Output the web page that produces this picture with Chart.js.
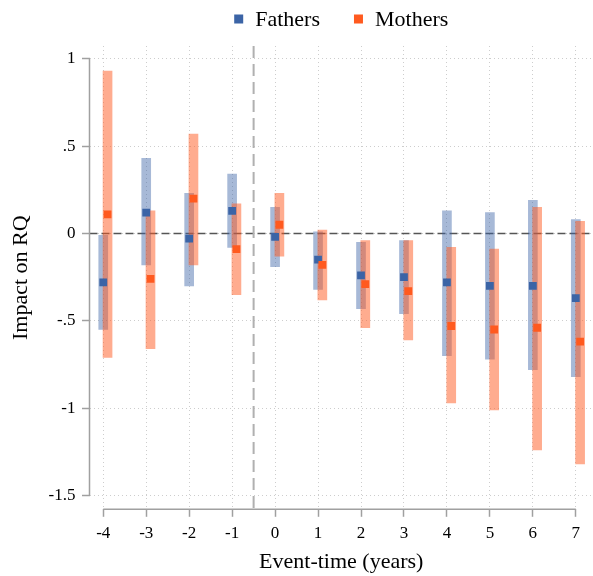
<!DOCTYPE html>
<html>
<head>
<meta charset="utf-8">
<title>Impact on RQ</title>
<script src="https://cdn.jsdelivr.net/npm/chart.js@4.4.1/dist/chart.umd.min.js"></script>
<style>
  html, body { margin: 0; padding: 0; background: #fff; }
</style>
</head>
<body>
<canvas id="rqChart" width="593" height="576"></canvas>
<script>
// event-time in years (x axis)
const years = [-4, -3, -2, -1, 0, 1, 2, 3, 4, 5, 6, 7];
const xTickLabels = ['-4', '-3', '-2', '-1', '0', '1', '2', '3', '4', '5', '6', '7'];

// fathers: point estimate + confidence interval
const fathersCoef = [-0.28, 0.12, -0.03, 0.13, -0.02, -0.15, -0.24, -0.25, -0.28, -0.30, -0.30, -0.37];
const fathersLow  = [-0.55, -0.18, -0.30, -0.08, -0.19, -0.32, -0.43, -0.46, -0.70, -0.72, -0.78, -0.82];
const fathersHigh = [-0.01, 0.43, 0.23, 0.34, 0.15, 0.01, -0.05, -0.04, 0.13, 0.12, 0.19, 0.08];

// mothers: point estimate + confidence interval
const mothersCoef = [0.11, -0.26, 0.20, -0.09, 0.05, -0.18, -0.29, -0.33, -0.53, -0.55, -0.54, -0.62];
const mothersLow  = [-0.71, -0.66, -0.18, -0.35, -0.13, -0.38, -0.54, -0.61, -0.97, -1.01, -1.24, -1.32];
const mothersHigh = [0.93, 0.13, 0.57, 0.17, 0.23, 0.02, -0.04, -0.04, -0.08, -0.09, 0.15, 0.07];

// y axis ticks, Stata style labels (no leading zero)
const yTickValues = [1, 0.5, 0, -0.5, -1, -1.5];
const yTickLabels = ['1', '.5', '0', '-.5', '-1', '-1.5'];

const seriesNames = ['Fathers', 'Mothers'];
const markerColors = ['#3b64a6', '#ff5a1f'];
const barColors = ['rgba(59, 100, 166, 0.45)', 'rgba(255, 90, 31, 0.5)'];

const zeroLine = 0;       // horizontal reference line
const eventLine = -0.5;   // vertical line between -1 and 0
const MOTHERS_SHIFT = 0.1; // mothers are drawn a little right of fathers

const FONT = "'Liberation Serif', 'Times New Roman', serif";
Chart.defaults.font.family = FONT;
Chart.defaults.color = '#000';

// reference lines + axis lines that only span the tick range
const refLines = {
  id: 'refLines',
  beforeDatasetsDraw(chart) {
    const { ctx, chartArea: a, scales: { x, y } } = chart;
    ctx.save();

    const y0 = y.getPixelForValue(zeroLine);
    ctx.strokeStyle = '#555';
    ctx.lineWidth = 1.4;
    ctx.setLineDash([8, 4]);
    ctx.beginPath();
    ctx.moveTo(a.left, y0);
    ctx.lineTo(a.right, y0);
    ctx.stroke();

    const xe = x.getPixelForValue(eventLine);
    ctx.strokeStyle = '#b0b0b0';
    ctx.lineWidth = 2;
    ctx.setLineDash([12, 6]);
    ctx.beginPath();
    ctx.moveTo(xe, a.top);
    ctx.lineTo(xe, a.bottom);
    ctx.stroke();

    ctx.setLineDash([]);
    ctx.strokeStyle = '#a0a0a0';
    ctx.lineWidth = 1.5;
    ctx.beginPath();
    ctx.moveTo(a.left, y.getPixelForValue(yTickValues[0]));
    ctx.lineTo(a.left, y.getPixelForValue(yTickValues[yTickValues.length - 1]));
    ctx.moveTo(x.getPixelForValue(years[0]), a.bottom);
    ctx.lineTo(x.getPixelForValue(years[years.length - 1]), a.bottom);
    ctx.stroke();

    ctx.restore();
  }
};

// legend on top: small squares + names, centred over the plot
const topLegend = {
  id: 'topLegend',
  afterDraw(chart) {
    const { ctx, chartArea: a } = chart;
    ctx.save();
    ctx.font = '22px ' + FONT;
    ctx.textBaseline = 'middle';
    const box = 9, gap = 12, spacing = 34, cy = 19;
    const widths = seriesNames.map(n => ctx.measureText(n).width);
    const total = widths.reduce((s, w) => s + box + gap + w, 0) + spacing * (seriesNames.length - 1);
    let cx = (a.left + a.right) / 2 - total / 2;
    seriesNames.forEach((name, i) => {
      ctx.fillStyle = markerColors[i];
      ctx.fillRect(cx, cy - box / 2, box, box);
      ctx.fillStyle = '#000';
      ctx.fillText(name, cx + box + gap, cy + 1);
      cx += box + gap + widths[i] + spacing;
    });
    ctx.restore();
  }
};

class RqChart {
  constructor() {
    this.$canvas = document.getElementById('rqChart');
    this.draw();
  }

  ciData(low, high, shift) {
    return years.map((yr, i) => ({ x: yr + shift, y: [low[i], high[i]] }));
  }

  coefData(coef, shift) {
    return years.map((yr, i) => ({ x: yr + shift, y: coef[i] }));
  }

  buildDatasets() {
    // order: lower number is drawn on top
    const marker = (label, data, color, order) => ({
      type: 'scatter', label, data, order,
      pointStyle: 'rect', pointRadius: 5.5, pointHoverRadius: 5.5,
      pointBackgroundColor: color, pointBorderWidth: 0, backgroundColor: color
    });
    const ci = (label, data, color, order) => ({
      type: 'bar', label, data, order,
      backgroundColor: color, borderWidth: 0,
      barThickness: 9, maxBarThickness: 9, grouped: false
    });
    return [
      marker('Mothers', this.coefData(mothersCoef, MOTHERS_SHIFT), markerColors[1], 0),
      marker('Fathers', this.coefData(fathersCoef, 0), markerColors[0], 1),
      ci('Mothers CI', this.ciData(mothersLow, mothersHigh, MOTHERS_SHIFT), barColors[1], 2),
      ci('Fathers CI', this.ciData(fathersLow, fathersHigh, 0), barColors[0], 3)
    ];
  }

  draw() {
    const grid = {
      color: '#cdcdcd', lineWidth: 1, offset: false,
      drawTicks: true, tickLength: 7.5, tickColor: '#a0a0a0', tickWidth: 1.5
    };
    new Chart(this.$canvas, {
      type: 'bar',
      data: { datasets: this.buildDatasets() },
      plugins: [refLines, topLegend],
      options: {
        responsive: false,
        animation: false,
        devicePixelRatio: 1,
        // autoPadding off: the square markers would otherwise eat 5.5px on the right
        layout: { autoPadding: false, padding: { top: 46, left: 0, right: 0, bottom: 0 } },
        plugins: { legend: { display: false }, tooltip: { enabled: false } },
        scales: {
          x: {
            type: 'linear', min: -4.32, max: 7.4, offset: false,
            grid: grid,
            border: { display: false, dash: [1, 3] },
            afterBuildTicks: s => { s.ticks = years.map(v => ({ value: v })); },
            afterFit: s => { s.height = 66.7; },
            ticks: {
              font: { size: 17 }, color: '#000', padding: 7,
              maxRotation: 0, autoSkip: false,
              callback: v => xTickLabels[years.indexOf(v)]
            },
            title: {
              display: true, text: 'Event-time (years)',
              font: { size: 22 }, color: '#000', padding: { top: 0, bottom: 1 }
            }
          },
          y: {
            type: 'linear', min: -1.58, max: 1.074,
            grid: grid,
            border: { display: false, dash: [1, 3] },
            afterBuildTicks: s => { s.ticks = yTickValues.map(v => ({ value: v })); },
            afterFit: s => { s.width = 89.5; },
            ticks: {
              font: { size: 17 }, color: '#000', padding: 6.5,
              callback: v => yTickLabels[yTickValues.indexOf(v)]
            },
            title: {
              display: true, text: 'Impact on RQ',
              font: { size: 22 }, color: '#000', padding: { top: 8, bottom: 0 }
            }
          }
        }
      }
    });
  }
}

let rq;
window.addEventListener('load', () => { rq = new RqChart(); });
</script>
</body>
</html>
